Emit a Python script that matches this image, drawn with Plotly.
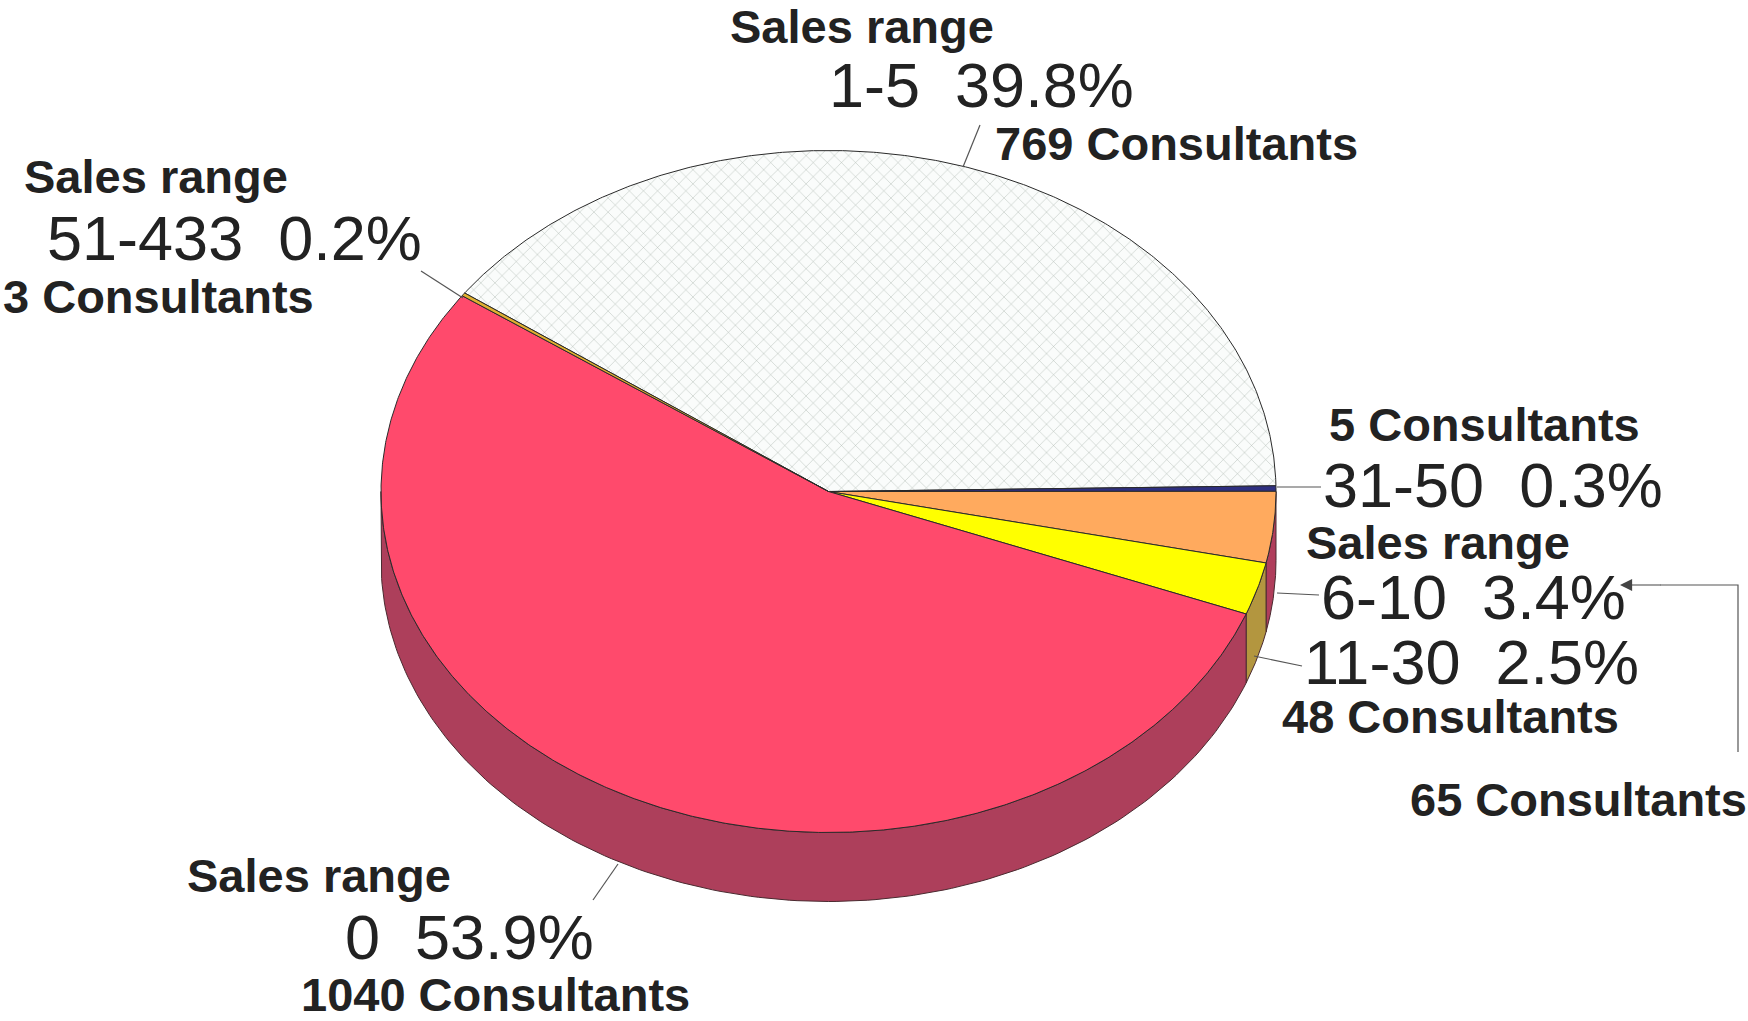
import numpy as np
import plotly.graph_objects as go

# ---- data ----
ranges = ["1-5", "31-50", "6-10", "11-30", "0", "51-433"]
consultants = [769, 5, 65, 48, 1040, 3]
percents = ["39.8%", "0.3%", "3.4%", "2.5%", "53.9%", "0.2%"]
top_colors = ["#FAFCFB", "#2E2F80", "#FFAA5E", "#FFFF00", "#FF4A6C", "#E0B030"]
wall_colors = ["#B8B8B8", "#23245F", "#B03E5C", "#B3963F", "#AD3F5B", "#A88420"]

# ---- pie geometry (page pixels) ----
CX, CY, RX, RY, DEPTH = 828.5, 491.5, 447.5, 341.0, 69.0
START_DEG = 144.4

# ---- text: (text, left x, middle y, bold) ----
labels = [
    ("Sales range", 728, 26, True),
    ("1-5  39.8%", 827, 85, False),
    ("769 Consultants", 993, 143, True),
    ("Sales range", 22, 176, True),
    ("51-433  0.2%", 45, 238, False),
    ("3 Consultants", 1, 296, True),
    ("5 Consultants", 1327, 424, True),
    ("31-50  0.3%", 1321, 485, False),
    ("Sales range", 1304, 542, True),
    ("6-10  3.4%", 1319, 597, False),
    ("11-30  2.5%", 1302, 662, False),
    ("48 Consultants", 1280, 716, True),
    ("65 Consultants", 1408, 799, True),
    ("Sales range", 185, 875, True),
    ("0  53.9%", 343, 937, False),
    ("1040 Consultants", 299, 994, True),
]
leaders = [
    ((980, 125), (963, 167)),
    ((421, 271), (463, 298)),
    ((1277, 487), (1321, 487)),
    ((1277, 593), (1319, 595)),
    ((1254, 656), (1302, 666)),
    ((618, 864), (593, 900)),
]
bracket_x = [1738, 1738, 1660]
bracket_y = [752, 585, 585]

fracs = np.array(consultants) / sum(consultants)
sweeps = fracs * 360.0
ends = START_DEG - np.cumsum(sweeps)
starts = ends + sweeps


def ell(deg, dy=0.0):
    t = np.radians(deg)
    return CX + RX * np.cos(t), CY - RY * np.sin(t) + dy


fig = go.Figure()

# side walls: only the part of each slice that faces the viewer
for name, a, b, col in zip(ranges, starts, ends, wall_colors):
    lo, hi = max(b, -180.0), min(a, 0.0)
    if hi <= lo:
        continue
    th = np.linspace(hi, lo, 160)
    x1, y1 = ell(th)
    x2, y2 = ell(th[::-1], DEPTH)
    fig.add_trace(go.Scatter(
        x=np.r_[x1, x2, x1[0]], y=np.r_[y1, y2, y1[0]], mode="lines",
        fill="toself", fillcolor=col, line=dict(color="#4A2A30", width=1),
        hoverinfo="skip", showlegend=False))

# top faces
for i, (name, a, b, col) in enumerate(zip(ranges, starts, ends, top_colors)):
    n = max(6, int(abs(a - b) * 3))
    th = np.linspace(a, b, n)
    x, y = ell(th)
    xs, ys = np.r_[CX, x, CX], np.r_[CY, y, CY]
    kw = dict(fillcolor=col)
    if i == 0:
        kw["fillpattern"] = dict(shape="x", size=10, solidity=0.08,
                                 fgcolor="#A3AFA7", bgcolor=col, fillmode="replace")
    fig.add_trace(go.Scatter(
        x=xs, y=ys, mode="lines", fill="toself",
        line=dict(color="#2A2A2A", width=1), hoverinfo="skip", showlegend=False, **kw))

# leader lines
for (p, q) in leaders:
    fig.add_trace(go.Scatter(x=[p[0], q[0]], y=[p[1], q[1]], mode="lines",
                             line=dict(color="#555555", width=1.2),
                             hoverinfo="skip", showlegend=False))
fig.add_trace(go.Scatter(x=bracket_x, y=bracket_y, mode="lines",
                         line=dict(color="#555555", width=1.2),
                         hoverinfo="skip", showlegend=False))

annotations = []
for text, x, y, bold in labels:
    annotations.append(dict(
        x=x, y=y, xref="x", yref="y", xanchor="left", yanchor="middle",
        showarrow=False, text=f"<b>{text}</b>" if bold else text,
        font=dict(family="Liberation Sans", size=47 if bold else 63,
                  color="#222222" if bold else "#222222")))
annotations.append(dict(
    x=1620, y=585, ax=1662, ay=585, xref="x", yref="y", axref="x", ayref="y",
    text="", showarrow=True, arrowhead=2, arrowsize=2.2, arrowwidth=1.1, arrowcolor="#444444"))

fig.update_layout(
    width=1748, height=1021, margin=dict(l=0, r=0, t=0, b=0),
    paper_bgcolor="white", plot_bgcolor="white", showlegend=False,
    xaxis=dict(range=[0, 1748], visible=False, fixedrange=True),
    yaxis=dict(range=[1021, 0], visible=False, fixedrange=True),
    annotations=annotations)

fig.write_html("out.html", config=dict(displayModeBar=False),
               post_script="document.body.style.margin='0';")
